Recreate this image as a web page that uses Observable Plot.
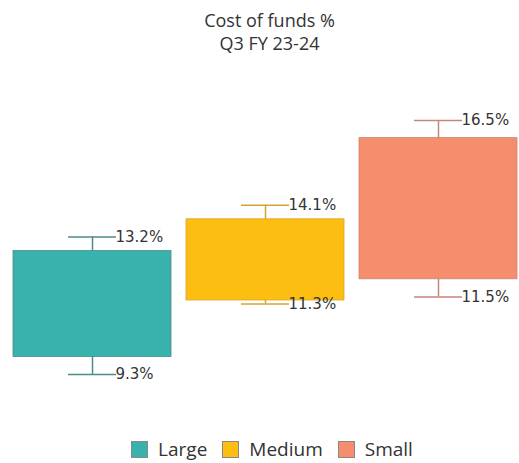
<!DOCTYPE html>
<html>
<head>
<meta charset="utf-8">
<script src="https://cdn.jsdelivr.net/npm/d3@7"></script>
<script src="https://cdn.jsdelivr.net/npm/@observablehq/plot@0.6"></script>
<style>
  body { margin: 0; background: #fff; font-family: "Open Sans", sans-serif; color: #333; }
  #wrap { width: 519px; }
  .title { text-align: center; font-size: 18px; line-height: 23px; padding-top: 9px; height: 51px; padding-left: 20px; box-sizing: content-box; }
  .legend { display: flex; justify-content: center; gap: 15px; font-size: 19px; margin-top: 7px; padding-left: 25px; line-height: 24px; }
  .legend span { display: inline-flex; align-items: center; }
  .legend i { display: inline-block; width: 17px; height: 17px; margin-right: 10px; border: 1px solid #888; box-sizing: border-box; }
</style>
</head>
<body>
<div id="wrap">
  <div class="title">Cost of funds %<br>Q3 FY 23-24</div>
  <div id="chart"></div>
  <div class="legend" id="legend"></div>
</div>
<script>
const categories = ["Large", "Medium", "Small"];
const highValues = [13.2, 14.1, 16.5];
const lowValues = [9.3, 11.3, 11.5];
const boxTop = [12.8, 13.7, 16.0];
const boxBottom = [9.8, 11.4, 12.0];
const fills = ["#38B2AC", "#FDBE12", "#F68E6E"];
const whiskerColors = ["#4E8B88", "#D6A42C", "#C98577"];

const data = categories.map((c, i) => ({
  cat: c, high: highValues[i], low: lowValues[i], top: boxTop[i], bottom: boxBottom[i],
  fill: fills[i], wc: whiskerColors[i]
}));

const chart = Plot.plot({
  width: 519,
  height: 370,
  marginTop: 7,
  marginBottom: 10,
  marginLeft: 12,
  marginRight: 2,
  x: { domain: categories, paddingInner: 0.087, paddingOuter: 0, axis: null },
  y: { domain: [8, 18], axis: null },
  marks: [
    Plot.ruleX(data, { x: "cat", y1: "low", y2: "high", stroke: "wc", strokeWidth: 1.5 }),
    Plot.barY(data, { x: "cat", y1: "bottom", y2: "top", fill: "fill", stroke: "wc", strokeWidth: 0.8 }),
    Plot.tickY(data, { x: "cat", y: "high", stroke: "wc", strokeWidth: 1.5, insetLeft: 55, insetRight: 55 }),
    Plot.tickY(data, { x: "cat", y: "low", stroke: "wc", strokeWidth: 1.5, insetLeft: 55, insetRight: 55 }),
    Plot.text(data, { x: "cat", y: "high", text: d => d.high.toFixed(1) + "%", textAnchor: "start", dx: 23, fontSize: 15, fill: "#333", fontFamily: "DejaVu Sans" }),
    Plot.text(data, { x: "cat", y: "low", text: d => d.low.toFixed(1) + "%", textAnchor: "start", dx: 23, fontSize: 15, fill: "#333", fontFamily: "DejaVu Sans" })
  ]
});
document.getElementById("chart").appendChild(chart);

const legend = document.getElementById("legend");
categories.forEach((c, i) => {
  const s = document.createElement("span");
  const sw = document.createElement("i");
  sw.style.background = fills[i];
  s.appendChild(sw);
  s.appendChild(document.createTextNode(c));
  legend.appendChild(s);
});
</script>
</body>
</html>
